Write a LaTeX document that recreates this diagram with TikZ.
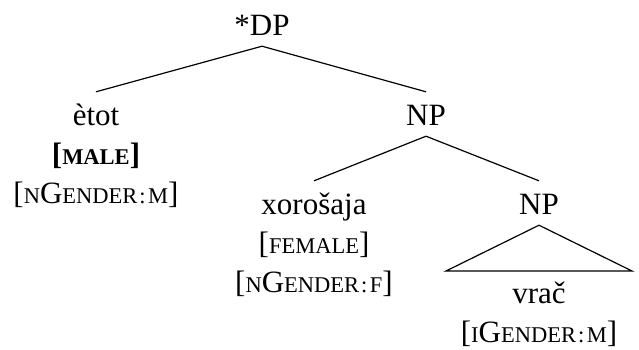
\documentclass[tikz,border=0pt]{standalone}
\usepackage{fontspec}
\setmainfont{Liberation Serif}
\usetikzlibrary{positioning}
\newcommand{\fsc}[1]{{\fontsize{22.5}{22.5}\selectfont #1}} % faked small caps
\newcommand{\gend}[2]{[\fsc{#1}G\fsc{ENDER}\kern2pt\fsc{:}\kern2.5pt\fsc{#2}]} % gender feature

\begin{document}
\begin{tikzpicture}[x=1pt, y=-1pt, font=\fontsize{31}{36}\selectfont] % tree
\tikzstyle{word} = [inner sep=0pt, text height=33pt, text depth=11pt, anchor=base] % word node style
\tikzstyle{feat} = [inner sep=0pt, text height=28pt, text depth=11pt] % feature line style
\tikzstyle{branch} = [line width=1.2pt] % edge style
\useasboundingbox (0,0) rectangle (639,349);

\node[word] (dp) at (262,35) {*DP}; % root
\node[word] (etot) at (96,125) {ètot};
\node[feat, below=0pt of etot] (etotA) {\textbf{[}\fsc{\bfseries MALE}\textbf{]}};
\node[feat, below=0pt of etotA] (etotB) {\gend{N}{M}};
\node[word] (np) at (426,125) {NP};
\node[word] (xor) at (314,214) {xorošaja};
\node[feat, below=0pt of xor] (xorA) {[\fsc{FEMALE}]};
\node[feat, below=0pt of xorA] (xorB) {\gend{N}{F}};
\node[word] (npb) at (539,214) {NP};
\node[word] (vrac) at (539,303) {vrač};
\node[feat, below=0pt of vrac] (vracA) {\gend{I}{M}};
\coordinate (triL) at (446,271);
\coordinate (triR) at (632,271);

\draw[branch] (dp.south) -- (etot.north);
\draw[branch] (dp.south) -- (np.north);
\draw[branch] (np.south) -- (xor.north);
\draw[branch] (np.south) -- (npb.north);
\draw[branch] (npb.south) -- (triL) -- (triR) -- cycle; % triangle
\end{tikzpicture}
\end{document}
